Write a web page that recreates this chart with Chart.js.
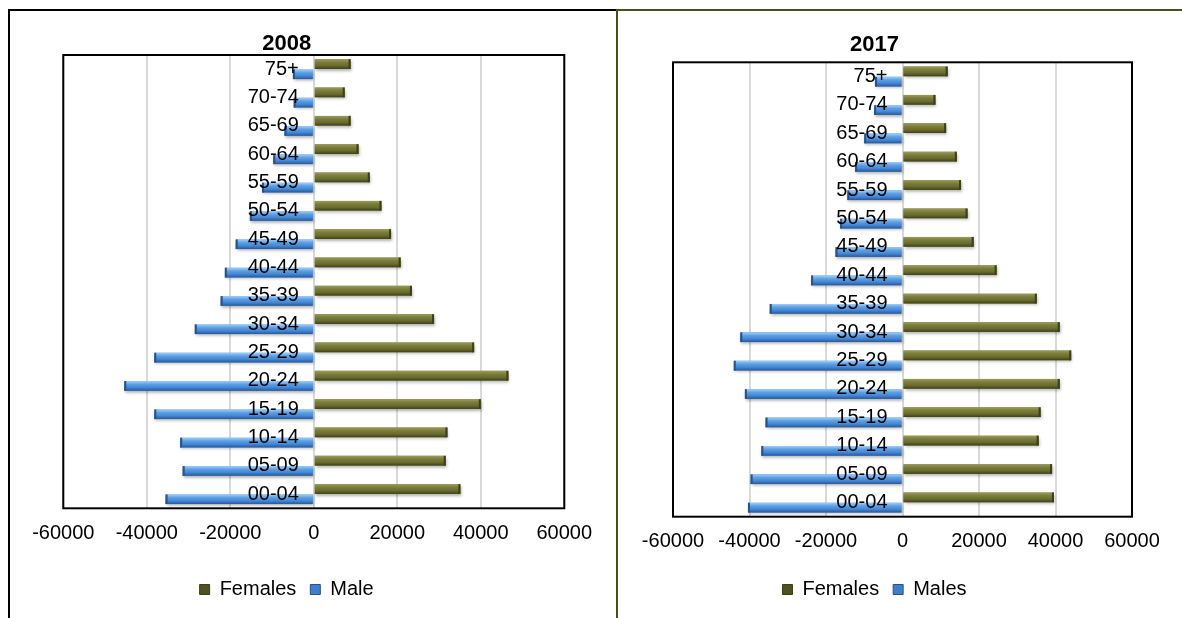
<!DOCTYPE html>
<html>
<head>
<meta charset="utf-8">
<script src="https://cdn.jsdelivr.net/npm/chart.js@4.4.1/dist/chart.umd.min.js"></script>
<style>
  html, body { margin: 0; padding: 0; background: #fff; width: 1182px; height: 618px; overflow: hidden; }
  body { position: relative; }
  .pane { position: absolute; top: 0; height: 618px; }
  #left { left: 9px; width: 608px; }
  #right { left: 617px; width: 570px; }
  .rule { position: absolute; z-index: 2; }
</style>
</head>
<body>
<div class="pane" id="left"><canvas id="c2008" width="608" height="618"></canvas></div>
<div class="pane" id="right"><canvas id="c2017" width="570" height="618"></canvas></div>
<div class="rule" style="left:8px;top:9px;width:2px;height:609px;background:#000"></div>
<div class="rule" style="left:8px;top:9px;width:609px;height:2px;background:#000"></div>
<div class="rule" style="left:616px;top:9px;width:566px;height:2px;background:#4b4d1c"></div>
<div class="rule" style="left:616px;top:9px;width:2px;height:609px;background:#4b4d1c"></div>
<script>
// age groups, top of the pyramid first
const ageGroups = ['75+', '70-74', '65-69', '60-64', '55-59', '50-54', '45-49', '40-44',
                   '35-39', '30-34', '25-29', '20-24', '15-19', '10-14', '05-09', '00-04'];

const females2008 = [8800, 7400, 8800, 10700, 13400, 16200, 18500, 20800,
                     23500, 28800, 38400, 46600, 40000, 32000, 31600, 35100];
const male2008 = [-5000, -4800, -7000, -9700, -12400, -15300, -18700, -21300,
                  -22300, -28500, -38200, -45400, -38200, -32000, -31400, -35500];

const females2017 = [11800, 8600, 11400, 14200, 15300, 17000, 18600, 24600,
                     35100, 41100, 44100, 41100, 36100, 35600, 39100, 39600];
const males2017 = [-7200, -7400, -10000, -12400, -14400, -16300, -17500, -23900,
                   -34700, -42400, -44100, -41200, -35800, -36900, -39700, -40400];

const xTicks = [-60000, -40000, -20000, 0, 20000, 40000, 60000];

const FONT = '"Liberation Sans", Arial, sans-serif';
const TXT = 20;
const PAD_B = 8.5;

// excel-ish bevel shades per dataset (females, males)
const barShades = [
    ['#9a9c5a', '#7a7c3b', '#6a6c2f', '#3e4018'],
    ['#a3cff7', '#5ba0e6', '#4486d3', '#285896']
];
const endCap = ['#3d3f16', '#2a5188'];
const swatch = ['#4f5120', '#3f7ecb'];

const bevel = {
    id: 'bevel',
    beforeDatasetDraw(chart) {
        const ctx = chart.ctx;
        ctx.save();
        ctx.shadowColor = 'rgba(0,0,0,0.3)';
        ctx.shadowBlur = 3;
        ctx.shadowOffsetX = 1;
        ctx.shadowOffsetY = 2;
    },
    afterDatasetDraw(chart, args) {
        const ctx = chart.ctx;
        ctx.restore();
        const stops = barShades[args.index];
        args.meta.data.forEach(bar => {
            const { x, y, base, height } = bar.getProps(['x', 'y', 'base', 'height'], true);
            const left = Math.min(x, base), w = Math.abs(x - base), top = y - height / 2;
            const g = ctx.createLinearGradient(0, top, 0, top + height);
            stops.forEach((c, k) => g.addColorStop(k / (stops.length - 1), c));
            ctx.fillStyle = g;
            ctx.fillRect(left, top, w, height);
            ctx.fillStyle = endCap[args.index];
            ctx.fillRect(x > base ? x - 2 : x, top, 2, height);
        });
    }
};

// category labels sit on the zero line, over the male bars
const ageLabels = {
    id: 'ageLabels',
    afterDatasetsDraw(chart) {
        const { ctx, scales: { x, y } } = chart;
        const x0 = x.getPixelForValue(0) - 15;
        ctx.save();
        ctx.font = TXT + 'px ' + FONT;
        ctx.fillStyle = '#000';
        ctx.textAlign = 'right';
        ctx.textBaseline = 'middle';
        y.getLabels().forEach((lab, i) => ctx.fillText(lab, x0, y.getPixelForTick(i)));
        ctx.restore();
    }
};

const plotFrame = {
    id: 'plotFrame',
    afterDraw(chart) {
        const { ctx, chartArea: a } = chart;
        ctx.save();
        ctx.strokeStyle = '#000';
        ctx.lineWidth = 2;
        ctx.strokeRect(a.left, a.top, a.right - a.left, a.bottom - a.top);
        ctx.restore();
    }
};

function pyramid(canvasId, year, females, males, malesLabel, area) {
    return new Chart(document.getElementById(canvasId), {
        type: 'bar',
        data: {
            labels: ageGroups,
            datasets: [
                { label: 'Females', data: females, backgroundColor: '#717334',
                  categoryPercentage: 0.72, barPercentage: 0.95 },
                { label: malesLabel, data: males, backgroundColor: '#4a8cd8',
                  categoryPercentage: 0.72, barPercentage: 0.95 }
            ]
        },
        options: {
            indexAxis: 'y',
            responsive: false,
            animation: false,
            layout: { padding: { left: 0, right: area.padRight, top: 0, bottom: PAD_B } },
            plugins: {
                tooltip: { enabled: false },
                title: {
                    display: true,
                    text: year,
                    color: '#000',
                    font: { family: FONT, size: 22, weight: 'bold', lineHeight: 1 },
                    padding: { top: area.titleTop, bottom: area.titleBottom }
                },
                legend: {
                    position: 'bottom',
                    labels: {
                        color: '#000',
                        font: { family: FONT, size: TXT },
                        boxWidth: 10,
                        boxHeight: 10,
                        padding: 14,
                        generateLabels: (chart) =>
                            Chart.defaults.plugins.legend.labels.generateLabels(chart).map((l, i) =>
                                Object.assign(l, { fillStyle: swatch[i], strokeStyle: endCap[i], lineWidth: 1 }))
                    }
                }
            },
            scales: {
                x: {
                    min: xTicks[0],
                    max: xTicks[xTicks.length - 1],
                    afterBuildTicks: (s) => { s.ticks = xTicks.map(v => ({ value: v })); },
                    ticks: {
                        color: '#000',
                        font: { family: FONT, size: TXT },
                        padding: 13,
                        maxRotation: 0,
                        autoSkip: false,
                        callback: (v) => String(v)
                    },
                    grid: { color: '#d9d9d9', lineWidth: 2, drawTicks: false },
                    border: { display: false },
                    afterFit: (s) => {
                        const lg = s.chart.legend ? s.chart.legend.height : 0;
                        s.height = s.chart.height - PAD_B - lg - area.bottom;
                    }
                },
                y: {
                    ticks: { display: false },
                    grid: { display: false },
                    border: { display: false },
                    afterFit: (s) => { s.width = area.left; }
                }
            }
        },
        plugins: [bevel, ageLabels, plotFrame]
    });
}

pyramid('c2008', '2008', females2008, male2008, 'Male',
    { left: 54.3, padRight: 52.7, bottom: 508.3, titleTop: 33, titleBottom: 0 });
pyramid('c2017', '2017', females2017, males2017, 'Males',
    { left: 56, padRight: 55, bottom: 516.7, titleTop: 34, titleBottom: 6.3 });
</script>
</body>
</html>
